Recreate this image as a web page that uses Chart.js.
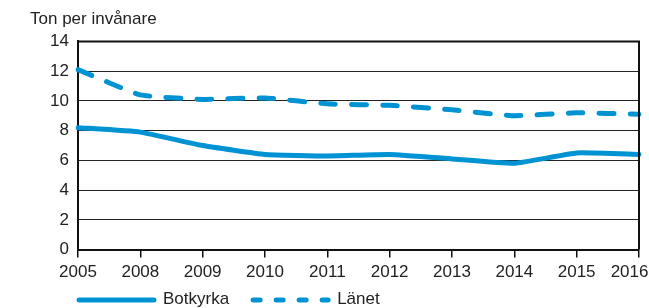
<!DOCTYPE html>
<html>
<head>
<meta charset="utf-8">
<script src="https://cdn.jsdelivr.net/npm/chart.js@4/dist/chart.umd.min.js"></script>
<style>
  html, body { margin: 0; padding: 0; background: #fff; }
  #wrap { width: 649px; height: 308px; }
</style>
</head>
<body>
<div id="wrap"><canvas id="chart" width="649" height="308"></canvas></div>
<script>
const years = ['2005', '2008', '2009', '2010', '2011', '2012', '2013', '2014', '2015', '2016'];
const botkyrka = [8.2, 7.9, 7.0, 6.4, 6.3, 6.4, 6.1, 5.8, 6.5, 6.4];
const lanet = [12.1, 10.4, 10.1, 10.2, 9.8, 9.7, 9.4, 9.0, 9.2, 9.1];
const yTicks = [0, 2, 4, 6, 8, 10, 12, 14];

const blue = '#0093d3';
const textColor = '#222';
const font = { family: '"Liberation Sans", Arial, Helvetica, sans-serif', size: 17 };

// ram runt ritytan + egen förklaring under axeln
const framePlugin = {
    id: 'frame',
    afterDatasetsDraw(chart) {
        const { ctx, chartArea: a } = chart;
        ctx.save();
        ctx.strokeStyle = '#111';
        ctx.lineWidth = 2;
        ctx.beginPath();
        ctx.moveTo(a.left, a.top);
        ctx.lineTo(a.right, a.top);
        ctx.lineTo(a.right, a.bottom);
        ctx.stroke();
        ctx.restore();
    },
    afterDraw(chart) {
        const { ctx, chartArea: a } = chart;
        const y = 300;
        let x = a.left + 1;
        ctx.save();
        ctx.font = `${font.size}px ${font.family}`;
        ctx.textBaseline = 'middle';
        ctx.fillStyle = textColor;
        chart.data.datasets.forEach((ds, i) => {
            ctx.strokeStyle = ds.borderColor;
            ctx.lineWidth = ds.borderWidth;
            ctx.lineCap = 'round';
            ctx.setLineDash(ds.borderDash ? [7, 16] : []);
            ctx.beginPath();
            ctx.moveTo(x, y);
            ctx.lineTo(x + 75, y);
            ctx.stroke();
            ctx.setLineDash([]);
            ctx.fillText(ds.label, x + 84, y - 1);
            x += 84 + ctx.measureText(ds.label).width + 24;
        });
        ctx.restore();
    }
};

new Chart(document.getElementById('chart'), {
    type: 'line',
    data: {
        labels: years,
        datasets: [
            {
                label: 'Botkyrka',
                data: botkyrka,
                borderColor: blue,
                borderWidth: 5,
                borderCapStyle: 'round',
                borderJoinStyle: 'round',
                tension: 0.12,
                pointRadius: 0,
                fill: false
            },
            {
                label: 'Länet',
                data: lanet,
                borderColor: blue,
                borderWidth: 5,
                borderDash: [15, 16],
                borderCapStyle: 'round',
                borderJoinStyle: 'round',
                tension: 0.12,
                pointRadius: 0,
                fill: false
            }
        ]
    },
    options: {
        responsive: false,
        animation: false,
        layout: { padding: { left: 30, right: 10, top: 0, bottom: 20 } },
        scales: {
            x: {
                type: 'category',
                offset: false,
                grid: { drawOnChartArea: false, drawTicks: true, tickLength: 8, color: '#111', lineWidth: 1.5 },
                border: { display: true, color: '#111', width: 2 },
                ticks: {
                    color: textColor, font: font, padding: 5, maxRotation: 0, autoSkip: false,
                    // sista etiketten flyttas in så den ryms
                    callback(v, i) { return i === years.length - 1 ? years[i] + '\u2007\u2007' : years[i]; }
                },
                afterFit(s) { s.paddingLeft = 0; s.paddingRight = 0; }
            },
            y: {
                min: 0,
                max: 14,
                afterBuildTicks(s) { s.ticks = yTicks.map(v => ({ value: v })); },
                grid: { color: '#222', lineWidth: 1, drawTicks: false },
                border: { display: true, color: '#111', width: 2 },
                ticks: { color: textColor, font: font, padding: 9 },
                afterFit(s) { s.width = 48; }
            }
        },
        plugins: {
            legend: { display: false },
            tooltip: { enabled: false },
            title: {
                display: true,
                text: 'Ton per invånare',
                align: 'start',
                color: textColor,
                font: { family: font.family, size: 17, weight: 'normal' },
                padding: { top: 9, bottom: 12 }
            }
        }
    },
    plugins: [framePlugin]
});
</script>
</body>
</html>
